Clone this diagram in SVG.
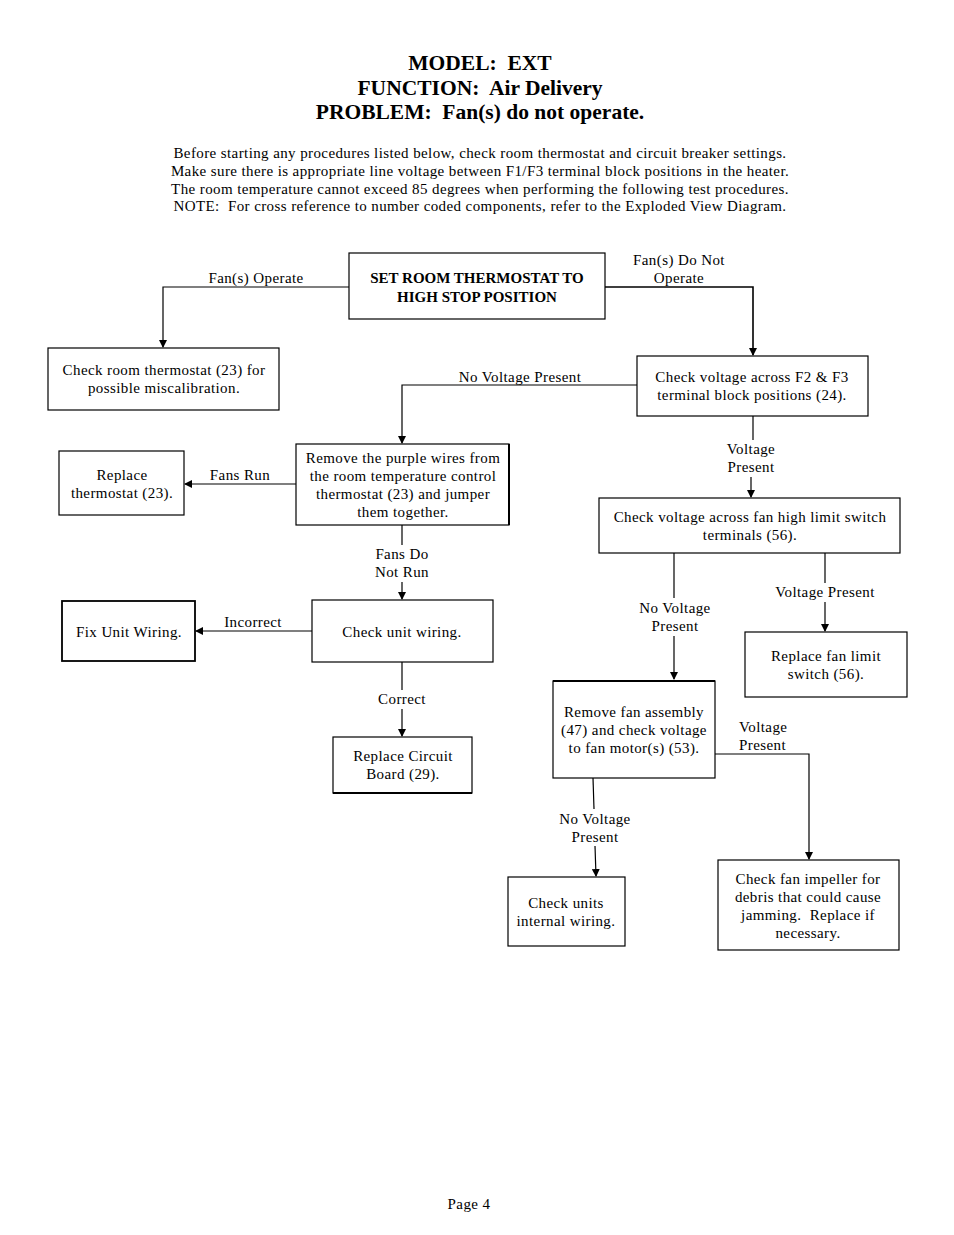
<svg xmlns="http://www.w3.org/2000/svg" width="954" height="1235" viewBox="0 0 954 1235">
<style>
text{font-family:"Liberation Serif","Times New Roman",serif;fill:#000;white-space:pre;font-size:15px;letter-spacing:0.4px}
.t{font-size:21.5px;font-weight:bold;text-anchor:middle;letter-spacing:0}
.p{text-anchor:middle}
.n{text-anchor:middle}
.l{text-anchor:middle}
.bd{font-weight:bold;letter-spacing:0}
.b{fill:#fff;stroke:#000;stroke-width:1.2}
.c{fill:none;stroke:#000;stroke-width:1.2}
</style>
<defs>
<marker id="ah" markerWidth="8" markerHeight="8" refX="7" refY="4" orient="auto" markerUnits="userSpaceOnUse">
<path d="M0,0 L8,4 L0,8 Z" fill="#000"/>
</marker>
</defs>
<rect width="954" height="1235" fill="#fff"/>
<g id="title">
<text class="t" x="480" y="70">MODEL:  EXT</text>
<text class="t" x="480" y="95">FUNCTION:  Air Delivery</text>
<text class="t" x="480" y="119">PROBLEM:  Fan(s) do not operate.</text>
</g>
<g id="intro">
<text class="p" x="480" y="158">Before starting any procedures listed below, check room thermostat and circuit breaker settings.</text>
<text class="p" x="480" y="176">Make sure there is appropriate line voltage between F1/F3 terminal block positions in the heater.</text>
<text class="p" x="480" y="194">The room temperature cannot exceed 85 degrees when performing the following test procedures.</text>
<text class="p" x="480" y="211">NOTE:  For cross reference to number coded components, refer to the Exploded View Diagram.</text>
</g>
<g id="connectors">
<polyline class="c" points="349,287 163,287 163,347" marker-end="url(#ah)"/>
<text class="l" x="256" y="283">Fan(s) Operate</text>
<polyline class="c" points="605,287 753,287 753,355" marker-end="url(#ah)" style="stroke-width:1.6"/>
<text class="l" x="679" y="265">Fan(s) Do Not</text>
<text class="l" x="679" y="283">Operate</text>
<polyline class="c" points="637,385 402,385 402,443" marker-end="url(#ah)"/>
<text class="l" x="520" y="382">No Voltage Present</text>
<line class="c" x1="753" y1="416" x2="753" y2="440"/>
<line class="c" x1="751" y1="477" x2="751" y2="497" marker-end="url(#ah)"/>
<text class="l" x="751" y="454">Voltage</text>
<text class="l" x="751" y="472">Present</text>
<line class="c" x1="296" y1="484" x2="185" y2="484" marker-end="url(#ah)"/>
<text class="l" x="240" y="480">Fans Run</text>
<line class="c" x1="402" y1="525" x2="402" y2="545"/>
<line class="c" x1="402" y1="582" x2="402" y2="599" marker-end="url(#ah)"/>
<text class="l" x="402" y="559">Fans Do</text>
<text class="l" x="402" y="577">Not Run</text>
<line class="c" x1="312" y1="631" x2="196" y2="631" marker-end="url(#ah)"/>
<text class="l" x="253" y="627">Incorrect</text>
<line class="c" x1="402" y1="662" x2="402" y2="690"/>
<line class="c" x1="402" y1="709" x2="402" y2="736" marker-end="url(#ah)"/>
<text class="l" x="402" y="704">Correct</text>
<line class="c" x1="674" y1="553" x2="674" y2="598"/>
<line class="c" x1="674" y1="636" x2="674" y2="679" marker-end="url(#ah)"/>
<text class="l" x="675" y="613">No Voltage</text>
<text class="l" x="675" y="631">Present</text>
<line class="c" x1="825" y1="553" x2="825" y2="583"/>
<line class="c" x1="825" y1="602" x2="825" y2="631" marker-end="url(#ah)"/>
<text class="l" x="825" y="597">Voltage Present</text>
<polyline class="c" points="715,754 809,754 809,859" marker-end="url(#ah)"/>
<text x="739" y="732">Voltage</text>
<text x="739" y="750">Present</text>
<line class="c" x1="593" y1="778" x2="594" y2="809"/>
<line class="c" x1="595" y1="846" x2="596" y2="876" marker-end="url(#ah)"/>
<text class="l" x="595" y="824">No Voltage</text>
<text class="l" x="595" y="842">Present</text>
</g>
<g id="n1">
<rect class="b" x="349" y="253" width="256" height="66"/>
<text class="n bd" x="477" y="283">SET ROOM THERMOSTAT TO</text>
<text class="n bd" x="477" y="302">HIGH STOP POSITION</text>
</g>
<g id="n2">
<rect class="b" x="48" y="348" width="231" height="62"/>
<text class="n" x="164" y="375">Check room thermostat (23) for</text>
<text class="n" x="164" y="393">possible miscalibration.</text>
</g>
<g id="n3">
<rect class="b" x="637" y="356" width="231" height="60"/>
<text class="n" x="752" y="382">Check voltage across F2 &amp; F3</text>
<text class="n" x="752" y="400">terminal block positions (24).</text>
</g>
<g id="n4">
<rect class="b" x="296" y="444" width="213" height="81"/>
<line x1="509" y1="444" x2="509" y2="525" stroke="#000" stroke-width="2"/>
<text class="n" x="403" y="463">Remove the purple wires from</text>
<text class="n" x="403" y="481">the room temperature control</text>
<text class="n" x="403" y="499">thermostat (23) and jumper</text>
<text class="n" x="403" y="517">them together.</text>
</g>
<g id="n5">
<rect class="b" x="59" y="451" width="125" height="64"/>
<text class="n" x="122" y="480">Replace</text>
<text class="n" x="122" y="498">thermostat (23).</text>
</g>
<g id="n6">
<rect class="b" x="599" y="498" width="301" height="55"/>
<text class="n" x="750" y="522">Check voltage across fan high limit switch</text>
<text class="n" x="750" y="540">terminals (56).</text>
</g>
<g id="n7">
<rect class="b" x="62" y="601" width="133" height="60" style="stroke-width:1.8"/>
<text class="n" x="129" y="637">Fix Unit Wiring.</text>
</g>
<g id="n8">
<rect class="b" x="312" y="600" width="181" height="62"/>
<text class="n" x="402" y="637">Check unit wiring.</text>
</g>
<g id="n9">
<rect class="b" x="333" y="737" width="139" height="56"/>
<line x1="333" y1="793" x2="472" y2="793" stroke="#000" stroke-width="2"/>
<text class="n" x="403" y="761">Replace Circuit</text>
<text class="n" x="403" y="779">Board (29).</text>
</g>
<g id="n10">
<rect class="b" x="745" y="632" width="162" height="65"/>
<text class="n" x="826" y="661">Replace fan limit</text>
<text class="n" x="826" y="679">switch (56).</text>
</g>
<g id="n11">
<rect class="b" x="553" y="681" width="162" height="97"/>
<line x1="553" y1="681" x2="715" y2="681" stroke="#000" stroke-width="2"/>
<text class="n" x="634" y="717">Remove fan assembly</text>
<text class="n" x="634" y="735">(47) and check voltage</text>
<text class="n" x="634" y="753">to fan motor(s) (53).</text>
</g>
<g id="n12">
<rect class="b" x="508" y="877" width="117" height="69"/>
<text class="n" x="566" y="908">Check units</text>
<text class="n" x="566" y="926">internal wiring.</text>
</g>
<g id="n13">
<rect class="b" x="718" y="860" width="181" height="90"/>
<text class="n" x="808" y="884">Check fan impeller for</text>
<text class="n" x="808" y="902">debris that could cause</text>
<text class="n" x="808" y="920">jamming.  Replace if</text>
<text class="n" x="808" y="938">necessary.</text>
</g>
<g id="footer">
<text class="p" x="469" y="1209">Page 4</text>
</g>
</svg>
